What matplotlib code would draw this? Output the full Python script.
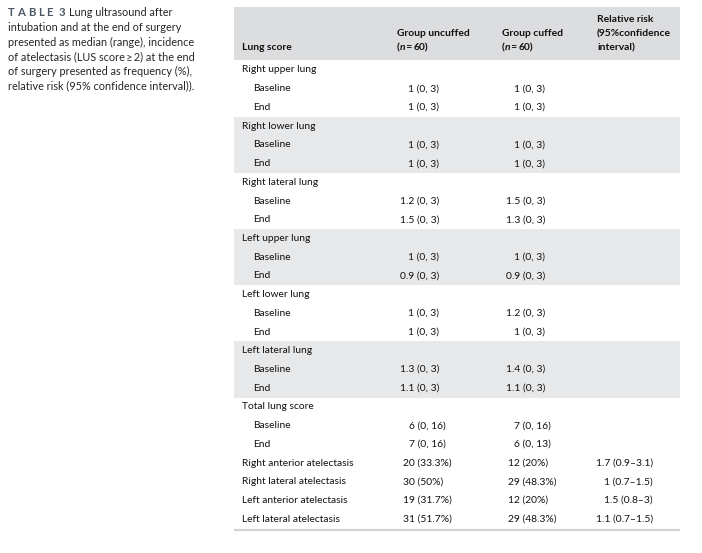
import matplotlib.pyplot as plt

plt.rcParams['font.family'] = ['Lato', 'DejaVu Sans']

# caption
caption_label = ['TABLE', '3']
caption_lines = ['Lung ultrasound after',
                 'intubation and at the end of surgery',
                 'presented as median (range), incidence',
                 'of atelectasis (LUS score\u2009\u2265\u20092) at the end',
                 'of surgery presented as frequency (%),',
                 'relative risk (95% confidence interval)).']

# header
col_headers = ['Group uncuffed', 'Group cuffed', 'Relative risk\n(95%confidence\ninterval)']
group_n = [60, 60]

# body: (label, kind, uncuffed, cuffed, relative risk)
rows = [
    ('Right upper lung', 'group', '', '', ''),
    ('Baseline', 'lung', '1 (0, 3)', '1 (0, 3)', ''),
    ('End', 'lung', '1 (0, 3)', '1 (0, 3)', ''),
    ('Right lower lung', 'group', '', '', ''),
    ('Baseline', 'lung', '1 (0, 3)', '1 (0, 3)', ''),
    ('End', 'lung', '1 (0, 3)', '1 (0, 3)', ''),
    ('Right lateral lung', 'group', '', '', ''),
    ('Baseline', 'lung', '1.2 (0, 3)', '1.5 (0, 3)', ''),
    ('End', 'lung', '1.5 (0, 3)', '1.3 (0, 3)', ''),
    ('Left upper lung', 'group', '', '', ''),
    ('Baseline', 'lung', '1 (0, 3)', '1 (0, 3)', ''),
    ('End', 'lung', '0.9 (0, 3)', '0.9 (0, 3)', ''),
    ('Left lower lung', 'group', '', '', ''),
    ('Baseline', 'lung', '1 (0, 3)', '1.2 (0, 3)', ''),
    ('End', 'lung', '1 (0, 3)', '1 (0, 3)', ''),
    ('Left lateral lung', 'group', '', '', ''),
    ('Baseline', 'lung', '1.3 (0, 3)', '1.4 (0, 3)', ''),
    ('End', 'lung', '1.1 (0, 3)', '1.1 (0, 3)', ''),
    ('Total lung score', 'group', '', '', ''),
    ('Baseline', 'total', '6 (0, 16)', '7 (0, 16)', ''),
    ('End', 'total', '7 (0, 16)', '6 (0, 13)', ''),
    ('Right anterior atelectasis', 'atel', '20 (33.3%)', '12 (20%)', '1.7 (0.9\u20133.1)'),
    ('Right lateral atelectasis', 'atel', '30 (50%)', '29 (48.3%)', '1 (0.7\u20131.5)'),
    ('Left anterior atelectasis', 'atel', '19 (31.7%)', '12 (20%)', '1.5 (0.8\u20133)'),
    ('Left lateral atelectasis', 'atel', '31 (51.7%)', '29 (48.3%)', '1.1 (0.7\u20131.5)'),
]
shaded_groups = [1, 3, 5]  # every other lung block

txt = '#121011'
head_bg = '#dcdddf'
band_bg = '#e7e8e9'
fs = 7.4

fig = plt.figure(figsize=(7.02, 5.53), dpi=100)
ax = fig.add_axes([0, 0, 1, 1])
ax.set_xlim(0, 702)
ax.set_ylim(553, 0)
ax.axis('off')
renderer = fig.canvas.get_renderer()


def runs(x, y, parts, gap=0.0):
    # draw text pieces one after another, advancing by measured width
    for s, kw in parts:
        t = ax.text(x, y, s, va='center', ha='left', **kw)
        bb = t.get_window_extent(renderer)
        x += bb.width + gap
    return x


# caption, letter-spaced label
cap_kw = dict(fontsize=8.2, fontweight='bold', color='#4a5866')
xe = runs(8, 13, [(c, cap_kw) for c in caption_label[0]], gap=2.6)
runs(xe + 3.5, 13, [(caption_label[1], cap_kw)])
for i, line in enumerate(caption_lines):
    x = 69 if i == 0 else 8
    ax.text(x, 13 + i * 14.6, line, fontsize=7.8, color='#262626',
            va='center', ha='left')

# table geometry
left, right = 234, 680
y0, step = 70, 18.72
col_x = [(397, 439, 409, 403), (502, 545, 514, 508), (597, 653, 598, 598)]

# header
bold = dict(fontsize=fs, fontweight='bold', color=txt)
ax.add_patch(plt.Rectangle((left, 7), right - left, 53, color=head_bg, lw=0))
ax.text(242, 48, 'Lung score', va='center', **bold)
for j, h in enumerate(col_headers):
    lines = h.split('\n')
    if j < 2:
        ax.text(col_x[j][0], 34, lines[0], va='center', **bold)
        runs(col_x[j][0], 48, [('(', bold),
                               ('n', dict(bold, fontstyle='italic')),
                               ('\u2009=\u2009', bold),
                               ('%d)' % group_n[j], bold)])
    else:
        for k, l in enumerate(lines):
            ax.text(col_x[j][0], 20 + k * 14, l, va='center', **bold)

# shaded bands
g = -1
for i, r in enumerate(rows):
    if r[1] == 'group':
        g += 1
        if g in shaded_groups:
            top = y0 + i * step - step / 2
            ax.add_patch(plt.Rectangle((left, top), right - left, step * 3,
                                       color=band_bg, lw=0))

# body text
for i, (label, kind, a, b, rr) in enumerate(rows):
    y = y0 + i * step
    x = 253 if kind in ('lung', 'total') else 242
    ax.text(x, y, label, fontsize=fs, color=txt, va='center')
    for j, v in enumerate([a, b, rr]):
        if not v:
            continue
        if j == 2 or kind == 'lung':
            ax.text(col_x[j][1], y, v, fontsize=fs, color=txt, va='center', ha='right')
        elif kind == 'total':
            ax.text(col_x[j][2], y, v, fontsize=fs, color=txt, va='center', ha='left')
        else:
            ax.text(col_x[j][3], y, v, fontsize=fs, color=txt, va='center', ha='left')

# bottom rule
ax.plot([left, right], [529.5, 529.5], color='#d2d3d5', lw=1.6, solid_capstyle='butt')

fig.savefig('out.png', dpi=100)
